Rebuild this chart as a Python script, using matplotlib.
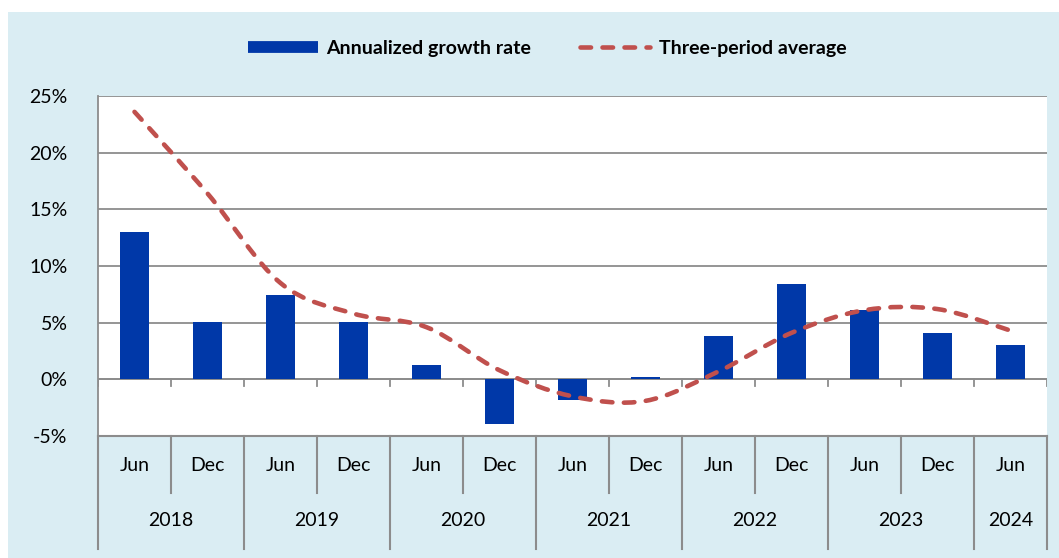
import matplotlib

matplotlib.use("Agg")

import matplotlib.pyplot as plt
from matplotlib.lines import Line2D
from matplotlib.patches import PathPatch, Rectangle
from matplotlib.path import Path

plt.rcParams["font.family"] = ["Lato", "DejaVu Sans"]

# data
months = ["Jun", "Dec", "Jun", "Dec", "Jun", "Dec", "Jun", "Dec", "Jun", "Dec", "Jun", "Dec", "Jun"]
years = ["2018", "2019", "2020", "2021", "2022", "2023", "2024"]
year_spans = [2, 2, 2, 2, 2, 2, 1]
growth = [13.0, 5.1, 7.4, 5.1, 1.3, -3.9, -1.85, 0.2, 3.8, 8.4, 6.1, 4.05, 3.0]
avg3 = [23.6, 16.4, 8.5, 5.8, 4.6, 0.8, -1.5, -1.9, 0.7, 4.1, 6.1, 6.2, 4.3]

BG = "#DAEDF3"
BLUE = "#0038A8"
RED = "#C0504D"
GREY = "#8C8C8C"
DASH = (0, (2.3, 2.5))


def smooth_path(xs, ys):
    """Excel-style smoothed line (Catmull-Rom as cubic Bezier)."""
    pts = list(zip(xs, ys))
    n = len(pts)
    verts = [pts[0]]
    codes = [Path.MOVETO]
    for i in range(n - 1):
        p0 = pts[i - 1] if i > 0 else pts[i]
        p1 = pts[i]
        p2 = pts[i + 1]
        p3 = pts[i + 2] if i + 2 < n else pts[i + 1]
        c1 = (p1[0] + (p2[0] - p0[0]) / 6, p1[1] + (p2[1] - p0[1]) / 6)
        c2 = (p2[0] - (p3[0] - p1[0]) / 6, p2[1] - (p3[1] - p1[1]) / 6)
        verts += [c1, c2, p2]
        codes += [Path.CURVE4] * 3
    return Path(verts, codes)


fig = plt.figure(figsize=(10.59, 5.58), dpi=100)
fig.patch.set_facecolor("white")
fig.patches.append(Rectangle((8 / 1059, 0), 1, (558 - 12) / 558,
                             transform=fig.transFigure, facecolor=BG,
                             edgecolor="none", zorder=-10))

ax = fig.add_axes([98 / 1059, (558 - 436) / 558, (1047 - 98) / 1059, 340 / 558])
ax.set_facecolor("white")

x = list(range(len(months)))
ax.bar(x, growth, width=0.41, color=BLUE, zorder=3)

ax.add_patch(PathPatch(smooth_path(x, avg3), fill=False, edgecolor=RED, lw=3.3,
                       linestyle=DASH, capstyle="round", zorder=4))

ax.set_xlim(-0.5, len(months) - 0.5)
ax.set_ylim(-5, 25)
ax.set_yticks(range(-5, 30, 5))
ax.set_yticklabels([f"{v}%" for v in range(-5, 30, 5)], fontsize=14)
ax.tick_params(axis="y", length=0, pad=22)
ax.set_xticks([])
ax.grid(axis="y", color=GREY, lw=1.3, zorder=1)
ax.axhline(0, color=GREY, lw=1.3, zorder=2)
for side in ["top", "right", "bottom"]:
    ax.spines[side].set_visible(False)
ax.spines["left"].set_color(GREY)
ax.spines["left"].set_linewidth(1.3)

# small ticks under the zero line
for b in range(len(months) + 1):
    ax.plot([b - 0.5, b - 0.5], [0, -0.55], color=GREY, lw=1.3, zorder=2)

# category table below the plot
ax.plot([-0.5, len(months) - 0.5], [-5, -5], color=GREY, lw=1.5, clip_on=False)
for i, m in enumerate(months):
    ax.text(i, -7.6, m, ha="center", va="center", fontsize=14)
year_edges = [0]
for span in year_spans:
    year_edges.append(year_edges[-1] + span)
for b in range(len(months) + 1):
    bottom = -14.95 if b in year_edges else -10.05
    ax.plot([b - 0.5, b - 0.5], [-5, bottom], color=GREY, lw=1.5, clip_on=False)
for yr, start, span in zip(years, year_edges[:-1], year_spans):
    ax.text(start + span / 2 - 0.5, -12.5, yr, ha="center", va="center", fontsize=14)

handles = [
    Line2D([], [], color=BLUE, lw=8.5, solid_capstyle="butt"),
    Line2D([], [], color=RED, lw=3.3, linestyle=DASH, dash_capstyle="round"),
]
leg = fig.legend(handles, ["Annualized growth rate", "Three-period average"],
                 loc="center", bbox_to_anchor=(547 / 1059, (558 - 48) / 558),
                 ncol=2, frameon=False, handlelength=3.6, handletextpad=0.45,
                 columnspacing=2.5, prop={"weight": "bold", "size": 14})

fig.savefig("out.png", dpi=100)
